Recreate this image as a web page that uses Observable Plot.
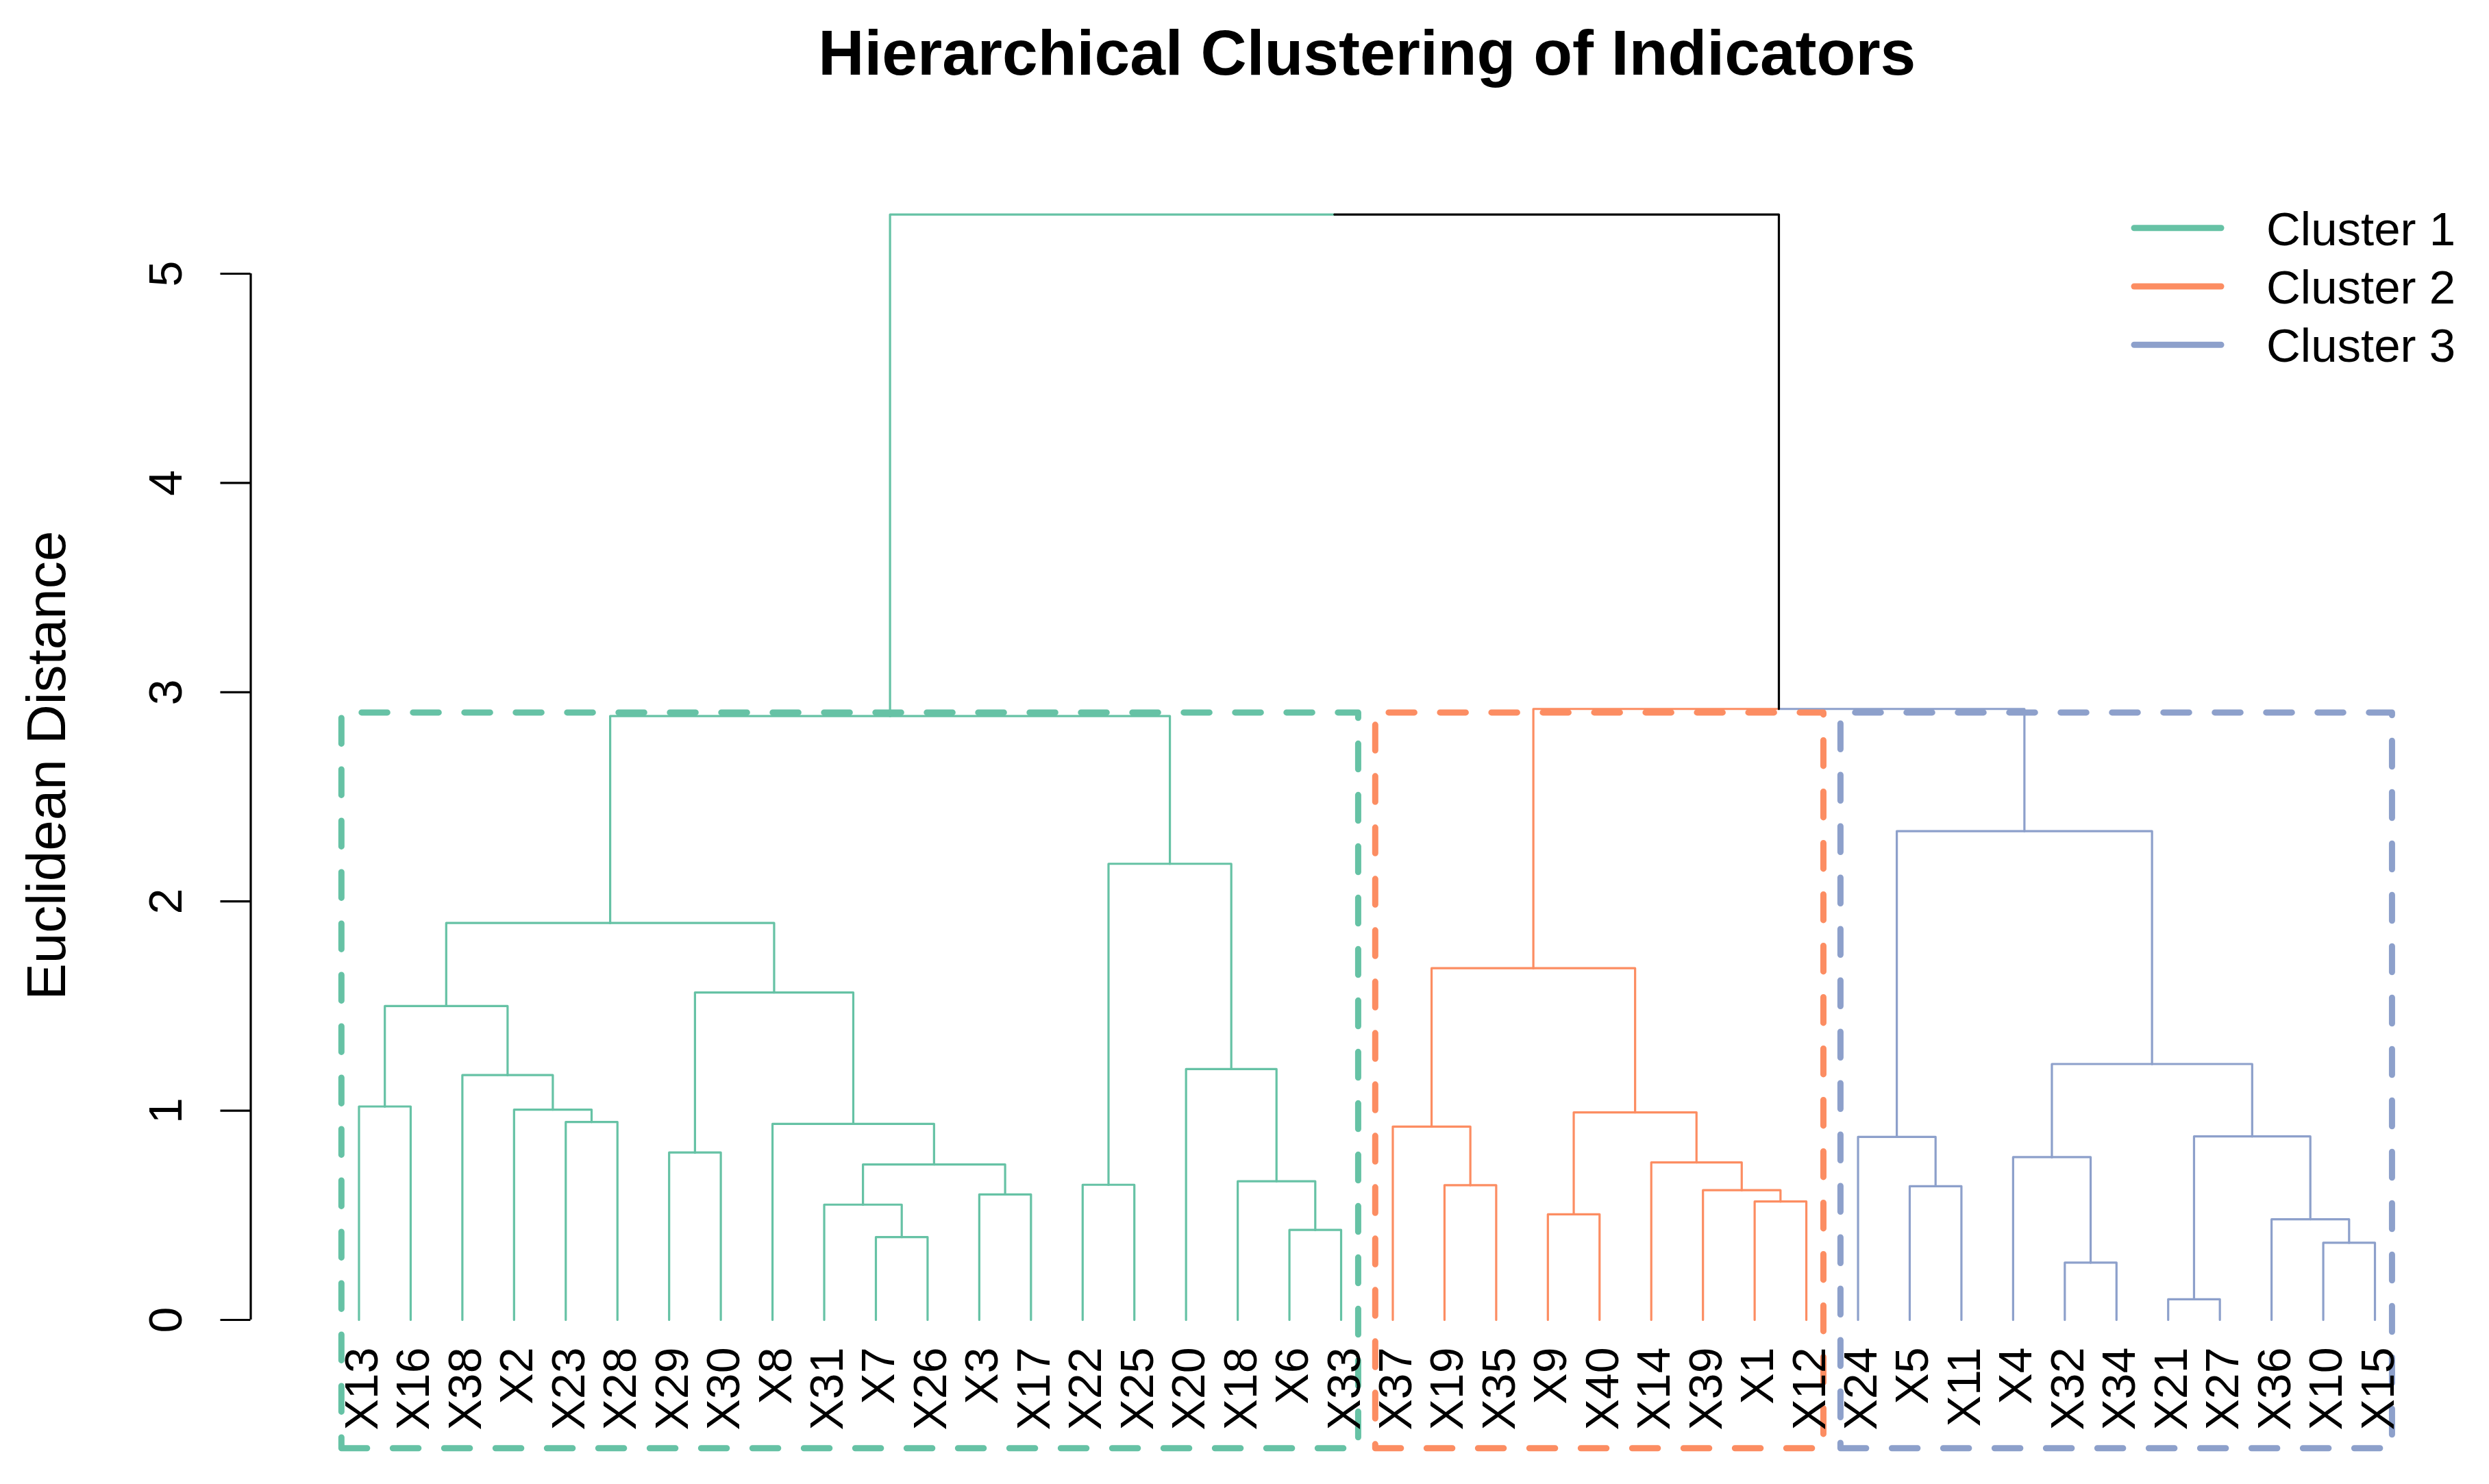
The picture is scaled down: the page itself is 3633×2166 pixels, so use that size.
<!DOCTYPE html>
<html>
<head>
<meta charset="utf-8">
<script src="https://cdn.jsdelivr.net/npm/d3@7"></script>
<script src="https://cdn.jsdelivr.net/npm/@observablehq/plot@0.6"></script>
<style>
  html, body { margin: 0; padding: 0; background: #fff; }
  #wrap { position: relative; width: 3633px; height: 2166px; font-family: "Liberation Sans", Arial, sans-serif; }
  #legend { position: absolute; left: 0; top: 0; pointer-events: none; }
</style>
</head>
<body>
<div id="wrap"></div>
<script>
// ---------------- data ----------------
const title = "Hierarchical Clustering of Indicators";
const yLabel = "Euclidean Distance";
const yTicks = [0, 1, 2, 3, 4, 5];

// leaves in dendrogram order
const leaves = ["X13","X16","X38","X2","X23","X28","X29","X30","X8","X31","X7","X26","X3","X17","X22","X25","X20","X18","X6","X33",
                "X37","X19","X35","X9","X40","X14","X39","X1","X12",
                "X24","X5","X11","X4","X32","X34","X21","X27","X36","X10","X15"];
const leafCluster = [1,1,1,1,1,1,1,1,1,1,1,1,1,1,1,1,1,1,1,1,
                     2,2,2,2,2,2,2,2,2,
                     3,3,3,3,3,3,3,3,3,3,3];

// merges (merge i is called "m"+(i+1)); children are leaf names or earlier merges
const mergeLeft  = ["X21","X32","X10","X7","X6","X36","X9","X31","X1","X3","X39","X5","X19","X22","X18","m8","X14","X4","X29","X24",
                    "m1","X37","X8","X23","m7","X2","X13","X38","X20","m18","m27","m19","m22","m31","m14","m20","m34","m33","m37"];
const mergeRight = ["X27","X34","X15","X26","X33","m3","X40","m4","X12","X17","m9","X11","X35","X25","m5","m10","m11","m2","X30","m12",
                    "m6","m13","m16","X28","m17","m24","X16","m26","m15","m21","m28","m23","m25","m32","m29","m30","m35","m36","m38"];
const mergeHeight = [0.099,0.274,0.369,0.396,0.430,0.481,0.505,0.551,0.566,0.600,0.620,0.639,0.644,0.646,0.663,0.743,0.753,0.778,0.800,0.875,
                     0.877,0.924,0.937,0.946,0.992,1.005,1.020,1.170,1.199,1.223,1.500,1.565,1.681,1.897,2.180,2.336,2.886,2.920,5.283];

const clusterNames = ["Cluster 1", "Cluster 2", "Cluster 3"];
const clusterColors = ["#66C2A5", "#FC8D62", "#8DA0CB"];
const rootColor = "#000000";

// ---------------- layout constants ----------------
const W = 3633, H = 2166;
const xDomain = [-0.5, 41.5];
const yDomain = [-0.2, 5.5];
const mL = 410.3, mR = 53.8, mT = 246.3, mB = 178.9;
const rectBottom = -0.613;   // lower edge of cluster rectangles (below labels)
const axisOffset = -44.8;    // y axis drawn left of the plotting region
const FONT = '"Liberation Sans", Arial, sans-serif';

// ---------------- build tree ----------------
const nodes = new Map();
leaves.forEach((name, i) => nodes.set(name, {x: i + 1, h: 0, clusters: new Set([leafCluster[i]])}));
mergeLeft.forEach((l, i) => {
  const a = nodes.get(l), b = nodes.get(mergeRight[i]);
  nodes.set("m" + (i + 1), {x: (a.x + b.x) / 2, h: mergeHeight[i],
    clusters: new Set([...a.clusters, ...b.clusters]), children: [a, b]});
});
const edges = [];
let eid = 0;
for (const node of nodes.values()) {
  if (!node.children) continue;
  for (const c of node.children) {
    const color = c.clusters.size === 1 ? clusterColors[[...c.clusters][0] - 1] : rootColor;
    eid++;
    edges.push({id: eid, color, x: node.x, y: node.h});
    edges.push({id: eid, color, x: c.x, y: node.h});
    edges.push({id: eid, color, x: c.x, y: c.h});
  }
}
const edgeColors = [...new Set(edges.map(d => d.color))];

// cluster rectangles (rect.hclust convention)
const sortedH = [...mergeHeight].sort((a, b) => b - a);
const k = clusterNames.length;
const rectTop = (sortedH[k - 2] + sortedH[k - 1]) / 2;
const boxes = [];
clusterNames.forEach((name, ci) => {
  const idx = leafCluster.map((c, i) => c === ci + 1 ? i + 1 : null).filter(v => v !== null);
  const x1 = d3.min(idx) - 0.34, x2 = d3.max(idx) + 0.33;
  [[x1, rectBottom], [x2, rectBottom], [x2, rectTop], [x1, rectTop], [x1, rectBottom]]
    .forEach(([x, y]) => boxes.push({c: ci, x, y}));
});

// ---------------- plot ----------------
const marks = [];
for (const col of edgeColors) {
  marks.push(Plot.line(edges.filter(d => d.color === col),
    {x: "x", y: "y", z: "id", stroke: col, strokeWidth: 3.2, strokeLinecap: "round", strokeLinejoin: "round"}));
}
clusterNames.forEach((name, ci) => {
  marks.push(Plot.line(boxes.filter(d => d.c === ci),
    {x: "x", y: "y", stroke: clusterColors[ci], strokeWidth: 9, strokeDasharray: "37.5,37.5",
     strokeLinecap: "round", strokeLinejoin: "round"}));
});
marks.push(
  Plot.text(leaves, {x: (d, i) => i + 1, y: () => 0, text: d => d, dx: 27, dy: 40, rotate: -90,
    textAnchor: "end", lineAnchor: "bottom", fontSize: 68, fill: "#000"}),
  Plot.axisY({ticks: yTicks, tickSize: 44, tickFormat: () => "", label: null, dx: axisOffset, strokeWidth: 3.2}),
  Plot.ruleX([xDomain[0]], {x: d => d, y1: () => yTicks[0], y2: () => yTicks[yTicks.length - 1],
    dx: axisOffset, strokeWidth: 3.2, stroke: "#000"}),
  Plot.text(yTicks, {y: d => d, text: d => String(d), frameAnchor: "left", dx: 264 - mL, rotate: -90,
    textAnchor: "middle", lineAnchor: "bottom", fontSize: 68, fill: "#000"}),
  Plot.text([yLabel], {frameAnchor: "left", text: d => d, dx: 94 - mL, rotate: -90,
    textAnchor: "middle", lineAnchor: "bottom", fontSize: 80, fill: "#000"}),
  Plot.text([title], {frameAnchor: "top", text: d => d, dy: 108 - mT, textAnchor: "middle", lineAnchor: "bottom",
    fontSize: 93, fontWeight: "bold", fill: "#000"})
);

const chart = Plot.plot({
  width: W, height: H,
  marginLeft: mL, marginRight: mR, marginTop: mT, marginBottom: mB,
  x: {domain: xDomain, axis: null},
  y: {domain: yDomain},
  style: {fontFamily: FONT, background: "#fff", overflow: "visible"},
  marks
});
const wrap = document.getElementById("wrap");
wrap.appendChild(chart);

// ---------------- legend ----------------
const leg = d3.select(wrap).append("svg").attr("id", "legend").attr("width", W).attr("height", H);
const legY = [332.7, 418, 503.3];
clusterNames.forEach((name, i) => {
  leg.append("line").attr("x1", 3115).attr("x2", 3242).attr("y1", legY[i]).attr("y2", legY[i])
    .attr("stroke", clusterColors[i]).attr("stroke-width", 9).attr("stroke-linecap", "round");
  leg.append("text").attr("x", 3308).attr("y", legY[i] + 25).text(name)
    .attr("font-size", 69).attr("font-family", FONT).attr("fill", "#000");
});
</script>
</body>
</html>
